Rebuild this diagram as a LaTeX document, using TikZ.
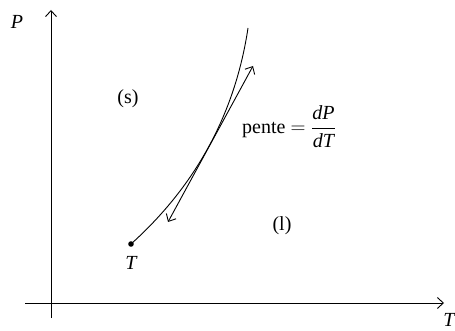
\documentclass[tikz,border=0pt]{standalone}
\usepackage{fontspec}
\setmainfont{Liberation Serif}
\usetikzlibrary{arrows.meta}
\begin{document}
\begin{tikzpicture}[x=1pt,y=-1pt,
  line width=0.9pt,
  tip/.style={-{Straight Barb[length=6pt,width=11pt,line width=0.9pt]}},
  tips/.style={{Straight Barb[length=6pt,width=11pt,line width=0.9pt]}-{Straight Barb[length=6pt,width=11pt,line width=0.9pt]}},
  lbl/.style={inner sep=0pt,font=\fontsize{20}{22}\selectfont}]
\useasboundingbox (0,0) rectangle (455,331);
\coordinate (vb) at (51,318);
\coordinate (vt) at (51,10);
\coordinate (hl) at (25,303);
\coordinate (hr) at (444,303);
\draw[tip] (vb) -- (vt);
\draw[tip] (hl) -- (hr);
\node[lbl] (P) at (17,22) {\itshape P};
\node[lbl] (Tax) at (449,320) {\itshape T};
\coordinate (tp) at (131,244);
\coordinate (top) at (248,28);
\fill (tp) circle (2.8);
\node[lbl] (Tt) at (131,263) {\itshape T};
\draw (tp) .. controls (193.5,187.8) and (234.8,116.3) .. (top);
\coordinate (a1) at (168,222);
\coordinate (a2) at (253,66);
\draw[tips] (a1) -- (a2);
\node[lbl] (s) at (128,99) {(s)};
\node[lbl] (l) at (282,226) {(l)};
\node[lbl] (pente) at (289,127) {pente $=\displaystyle\frac{\textit{dP}}{\textit{dT}}$};
\end{tikzpicture}
\end{document}
